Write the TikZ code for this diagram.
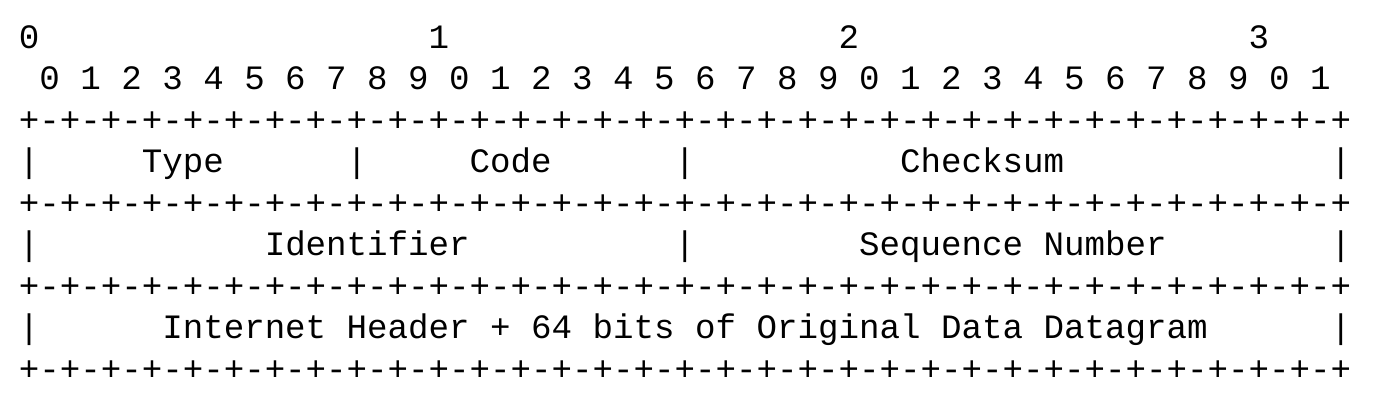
\documentclass[tikz,border=0pt]{standalone}
\usepackage{fontspec}
\newfontfamily\monofam{Liberation Mono}
\tikzset{txt/.style={anchor=base west, inner sep=0pt, outer sep=0pt, font=\monofam\fontsize{17.08pt}{20pt}\selectfont, text=black}}
\newcommand{\cell}[4]{\node[txt] (#1) at ({9.4pt+#2*10.248pt},{-24pt-#3*20.75pt}) {#4};}
\newcommand{\bordertxt}{+-+-+-+-+-+-+-+-+-+-+-+-+-+-+-+-+-+-+-+-+-+-+-+-+-+-+-+-+-+-+-+-+}
\begin{document}
\begin{tikzpicture}
\useasboundingbox (0,0) rectangle (691pt,-204.5pt);
\cell{d0}{0}{0}{0}
\cell{d1}{20}{0}{1}
\cell{d2}{40}{0}{2}
\cell{d3}{60}{0}{3}
\cell{bits}{1}{1}{0 1 2 3 4 5 6 7 8 9 0 1 2 3 4 5 6 7 8 9 0 1 2 3 4 5 6 7 8 9 0 1}
\cell{b1}{0}{2}{\bordertxt}
\cell{v1a}{0}{3}{|}
\cell{type}{6}{3}{Type}
\cell{v1b}{16}{3}{|}
\cell{code}{22}{3}{Code}
\cell{v1c}{32}{3}{|}
\cell{checksum}{43}{3}{Checksum}
\cell{v1d}{64}{3}{|}
\cell{b2}{0}{4}{\bordertxt}
\cell{v2a}{0}{5}{|}
\cell{ident}{12}{5}{Identifier}
\cell{v2b}{32}{5}{|}
\cell{seq}{41}{5}{Sequence Number}
\cell{v2c}{64}{5}{|}
\cell{b3}{0}{6}{\bordertxt}
\cell{v3a}{0}{7}{|}
\cell{data}{7}{7}{Internet Header + 64 bits of Original Data Datagram}
\cell{v3b}{64}{7}{|}
\cell{b4}{0}{8}{\bordertxt}
\end{tikzpicture}
\end{document}
